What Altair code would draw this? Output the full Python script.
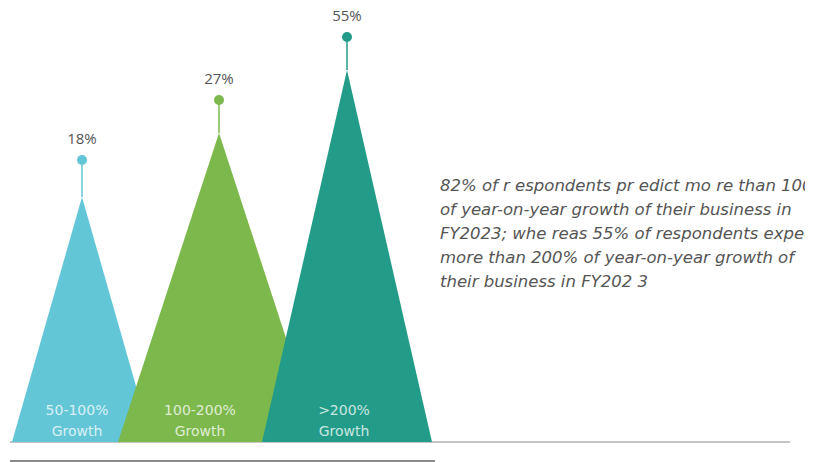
import altair as alt
import pandas as pd

# ---- data ----
categories = ["50-100%", "100-200%", ">200%"]
sub_label = ["Growth", "Growth", "Growth"]
values = [18, 27, 55]
colors = ["#63C6D7", "#7CB84B", "#229C88"]
# geometry of each peak (horizontal units / height above baseline)
centers = [82, 219, 347]
half_widths = [70, 101, 85]
peak_heights = [245, 309, 372]
dot_heights = [282, 342, 405]
label_centers = [77, 200, 344]

note_lines = [
    "82% of r espondents pr edict mo re than 100%",
    "of year-on-year growth of their business in",
    "FY2023; whe reas 55% of respondents  expect",
    "more than 200% of  year-on-year growth of",
    "their business in FY202  3",
]
note_x = 440
note_heights = [256, 232, 208, 184, 160]

base_line = {"x": 10, "x2": 790, "y": 0}
foot_line = {"x": 10, "x2": 435, "y": -19}

# ---- frames ----
W, H = 797, 456
xs = alt.Scale(domain=[8, 8 + W], nice=False, zero=False)
ys = alt.Scale(domain=[442 - (8 + H), 434], nice=False, zero=False)

tri_rows = []
for c, cx, hw, ph in zip(categories, centers, half_widths, peak_heights):
    tri_rows += [
        {"cat": c, "x": cx - hw, "y": 0},
        {"cat": c, "x": cx, "y": ph},
        {"cat": c, "x": cx + hw, "y": 0},
    ]
tri_df = pd.DataFrame(tri_rows)

peak_df = pd.DataFrame({
    "cat": categories,
    "x": centers,
    "peak": peak_heights,
    "dot": dot_heights,
    "label": [f"{v}%" for v in values],
    "lx": label_centers,
    "sub": sub_label,
})

note_df = pd.DataFrame({"text": note_lines, "x": note_x, "y": note_heights})
lines_df = pd.DataFrame([base_line, foot_line])

X = lambda f: alt.X(f, scale=xs, axis=None)
Y = lambda f: alt.Y(f, scale=ys, axis=None, stack=None)

layers = []
for c, col in zip(categories, colors):
    layers.append(
        alt.Chart(tri_df).transform_filter(alt.datum.cat == c)
        .mark_area(color=col, opacity=1)
        .encode(x=X("x:Q"), y=Y("y:Q"))
    )

color_scale = alt.Scale(domain=categories, range=colors)

baseline = alt.Chart(lines_df.iloc[[0]]).mark_rule(color="#b0b0b0", strokeWidth=1.5).encode(
    x=X("x:Q"), x2="x2:Q", y=Y("y:Q"))
footline = alt.Chart(lines_df.iloc[[1]]).mark_rule(color="#8a8a8a", strokeWidth=2).encode(
    x=X("x:Q"), x2="x2:Q", y=Y("y:Q"))

stems = alt.Chart(peak_df).mark_rule(strokeWidth=1.5).encode(
    x=X("x:Q"), y=Y("peak:Q"), y2="dot:Q",
    color=alt.Color("cat:N", scale=color_scale, legend=None))
dots = alt.Chart(peak_df).mark_point(filled=True, size=100, opacity=1).encode(
    x=X("x:Q"), y=Y("dot:Q"),
    color=alt.Color("cat:N", scale=color_scale, legend=None))
pct = alt.Chart(peak_df).mark_text(
    font="Open Sans", fontSize=15, color="#555555", dy=-21, baseline="middle"
).encode(x=X("x:Q"), y=Y("dot:Q"), text="label:N")

inner1 = alt.Chart(peak_df).transform_calculate(h="31").mark_text(
    font="DejaVu Sans", fontSize=14, color="#ffffff", opacity=0.75, baseline="middle"
).encode(x=X("lx:Q"), y=Y("h:Q"), text="cat:N")
inner2 = alt.Chart(peak_df).transform_calculate(h="10").mark_text(
    font="DejaVu Sans", fontSize=14, color="#ffffff", opacity=0.75, baseline="middle"
).encode(x=X("lx:Q"), y=Y("h:Q"), text="sub:N")

note = alt.Chart(note_df).mark_text(
    font="DejaVu Sans", fontSize=16.5, fontStyle="italic", color="#555555",
    align="left", baseline="middle"
).encode(x=X("x:Q"), y=Y("y:Q"), text="text:N")

chart = alt.layer(
    baseline, footline, *layers, stems, dots, pct, inner1, inner2, note
).properties(
    width=W, height=H, padding=0, autosize=alt.AutoSizeParams(type="none"),
    background="white"
).configure_view(stroke=None)

chart.save("out.html", embed_options={"renderer": "svg", "actions": False})
